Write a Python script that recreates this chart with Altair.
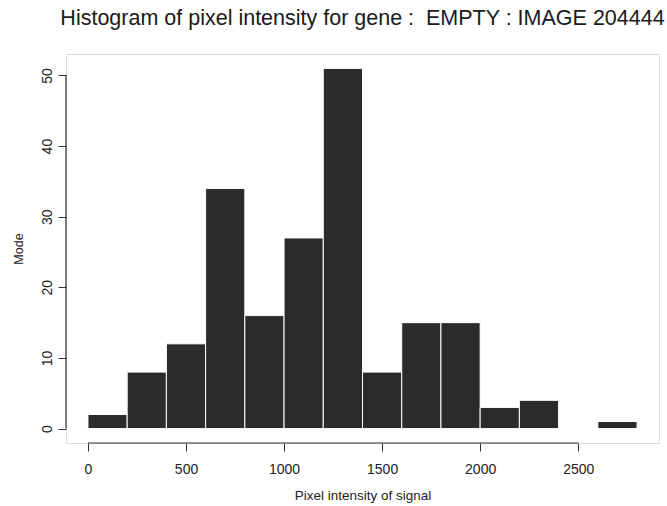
import altair as alt
import pandas as pd

# Histogram data (bin edges and counts)
bin_start = [0, 200, 400, 600, 800, 1000, 1200, 1400, 1600, 1800, 2000, 2200, 2400, 2600]
bin_end = [200, 400, 600, 800, 1000, 1200, 1400, 1600, 1800, 2000, 2200, 2400, 2600, 2800]
counts = [2, 8, 12, 34, 16, 27, 51, 8, 15, 15, 3, 4, 0, 1]

x_ticks = [0, 500, 1000, 1500, 2000, 2500]
y_ticks = [0, 10, 20, 30, 40, 50]

bars = pd.DataFrame({"start": bin_start, "end": bin_end, "count": counts})

FONT = "Liberation Sans"
W, H = 593, 389
x_dom = [-112, 2912]
y_dom = [-2.04, 53.04]

xs = alt.Scale(domain=x_dom, nice=False, zero=False)
ys = alt.Scale(domain=y_dom, nice=False, zero=False)

hist = alt.Chart(bars).mark_rect(
    color="#2b2b2b", stroke="white", strokeWidth=1
).encode(
    x=alt.X("start:Q", scale=xs, axis=alt.Axis(
        values=x_ticks, domain=False, grid=False, tickSize=8, tickColor="#333",
        tickWidth=1, labelFont=FONT, labelFontSize=14, labelColor="#222",
        labelPadding=11, title="Pixel intensity of signal", titleFont=FONT,
        titleFontSize=13.5, titleFontWeight="normal", titleColor="#222",
        titlePadding=12, format="d", labelFlush=False)),
    x2="end:Q",
    y=alt.Y("count:Q", scale=ys, axis=alt.Axis(
        values=y_ticks, domain=False, grid=False, tickSize=8, tickColor="#333",
        tickWidth=1, labelFont=FONT, labelFontSize=14, labelColor="#222",
        labelAngle=270, labelAlign="center", labelBaseline="bottom",
        labelPadding=4, title="Mode", titleFont=FONT, titleFontSize=12.5,
        titleFontWeight="normal", titleColor="#222", titlePadding=15,
        labelFlush=False)),
    y2=alt.datum(0),
)

xline = alt.Chart(pd.DataFrame({"a": [min(x_ticks)], "b": [max(x_ticks)]})).mark_rule(
    color="#333", strokeWidth=1.2
).encode(x=alt.X("a:Q", scale=xs), x2="b:Q", y=alt.value(H))

yline = alt.Chart(pd.DataFrame({"a": [min(y_ticks)], "b": [max(y_ticks)]})).mark_rule(
    color="#333", strokeWidth=1.2
).encode(y=alt.Y("a:Q", scale=ys), y2="b:Q", x=alt.value(0))

chart = alt.layer(hist, xline, yline).properties(
    width=W, height=H,
    title=alt.TitleParams(
        "Histogram of pixel intensity for gene :\u00a0 EMPTY : IMAGE 204444",
        font=FONT, fontSize=21.5, fontWeight="normal", color="#1a1a1a",
        anchor="middle", offset=25),
    autosize=alt.AutoSizeParams(type="none"),
    padding={"left": 66, "top": 54, "right": 8, "bottom": 63},
).configure_view(stroke=None).configure(background="white")

chart.save("out.html", embed_options={"renderer": "svg", "actions": False})
